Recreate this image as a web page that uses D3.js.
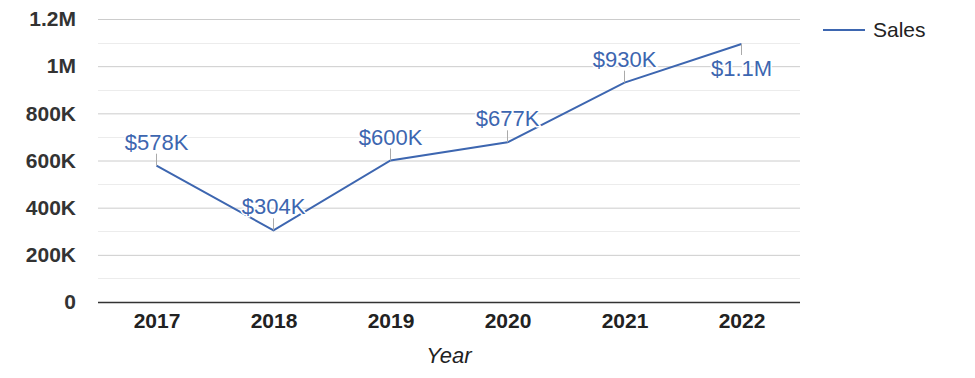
<!DOCTYPE html>
<html>
<head>
<meta charset="utf-8">
<script src="https://cdn.jsdelivr.net/npm/d3@7"></script>
<style>
  body { margin: 0; background: #fff; font-family: Arial, "Liberation Sans", sans-serif; }
</style>
</head>
<body>
<script>
// data
var years = ["2017", "2018", "2019", "2020", "2021", "2022"];
var sales = [578000, 304000, 600000, 677000, 930000, 1094000];
var salesLabels = ["$578K", "$304K", "$600K", "$677K", "$930K", "$1.1M"];
var labelBelow = [false, false, false, false, false, true];
var yTicks = [0, 200000, 400000, 600000, 800000, 1000000, 1200000];
var yTickLabels = ["0", "200K", "400K", "600K", "800K", "1M", "1.2M"];
var minorTicks = [100000, 300000, 500000, 700000, 900000, 1100000];

var width = 975;
var height = 378;
var margin = {left: 98, right: 175, top: 19, bottom: 76};
var lineColor = "#3d66b0";

var svg = d3.select("body")
            .append("svg")
            .attr("width", width)
            .attr("height", height);

var x = d3.scalePoint()
          .domain(years)
          .range([margin.left, width - margin.right])
          .padding(0.5);

var y = d3.scaleLinear()
          .domain([0, 1200000])
          .range([height - margin.bottom, margin.top]);

// minor gridlines
svg.append("g")
   .selectAll("line")
   .data(minorTicks)
   .enter().append("line")
   .attr("x1", margin.left)
   .attr("x2", width - margin.right)
   .attr("y1", function(d) { return Math.round(y(d)) + 0.5; })
   .attr("y2", function(d) { return Math.round(y(d)) + 0.5; })
   .attr("stroke", "#ececec");

// y axis with major gridlines
var yAxis = d3.axisLeft(y)
              .tickValues(yTicks)
              .tickSize(-(width - margin.left - margin.right))
              .tickPadding(22)
              .tickFormat(function(d, i) { return yTickLabels[i]; });

var gy = svg.append("g")
            .attr("transform", "translate(" + margin.left + ",0)")
            .call(yAxis);
gy.select(".domain").remove();
gy.selectAll(".tick line")
  .attr("stroke", function(d) { return d === 0 ? "#333" : "#cccccc"; })
  .attr("stroke-width", function(d) { return d === 0 ? 1.3 : 1; });
gy.selectAll(".tick text")
  .style("font-family", "Arial, 'Liberation Sans', sans-serif")
  .style("font-size", "21px")
  .style("font-weight", "bold")
  .attr("fill", "#333");

// x axis
var xAxis = d3.axisBottom(x).tickSize(0).tickPadding(11);
var gx = svg.append("g")
            .attr("transform", "translate(0," + (height - margin.bottom) + ")")
            .call(xAxis);
gx.select(".domain").remove();
gx.selectAll(".tick text")
  .style("font-family", "Arial, 'Liberation Sans', sans-serif")
  .style("font-size", "21px")
  .style("font-weight", "bold")
  .attr("fill", "#222");

svg.append("text")
   .attr("x", (margin.left + width - margin.right) / 2)
   .attr("y", 363)
   .attr("text-anchor", "middle")
   .style("font-size", "22px")
   .style("font-style", "italic")
   .attr("fill", "#222")
   .text("Year");

// line
var line = d3.line()
             .x(function(d, i) { return x(years[i]); })
             .y(function(d) { return y(d); });

svg.append("path")
   .datum(sales)
   .attr("d", line)
   .attr("fill", "none")
   .attr("stroke", lineColor)
   .attr("stroke-width", 2);

// data labels with leader lines
var labels = svg.append("g")
                .selectAll("g")
                .data(sales)
                .enter().append("g")
                .attr("transform", function(d, i) { return "translate(" + x(years[i]) + "," + y(d) + ")"; });

labels.append("line")
      .attr("x1", 0).attr("x2", 0)
      .attr("y1", 0)
      .attr("y2", function(d, i) { return labelBelow[i] ? 11 : -12; })
      .attr("stroke", "#aaa");

labels.append("text")
      .attr("text-anchor", "middle")
      .attr("y", function(d, i) { return labelBelow[i] ? 32 : -16; })
      .style("font-size", "22px")
      .attr("fill", lineColor)
      .attr("stroke", "#fff")
      .attr("stroke-width", 3)
      .attr("paint-order", "stroke")
      .text(function(d, i) { return salesLabels[i]; });

// legend
var legend = svg.append("g").attr("transform", "translate(823,30)");
legend.append("line")
      .attr("x1", 0).attr("x2", 42)
      .attr("stroke", lineColor)
      .attr("stroke-width", 2);
legend.append("text")
      .attr("x", 50)
      .attr("y", 7)
      .style("font-size", "21px")
      .attr("fill", "#222")
      .text("Sales");
</script>
</body>
</html>
